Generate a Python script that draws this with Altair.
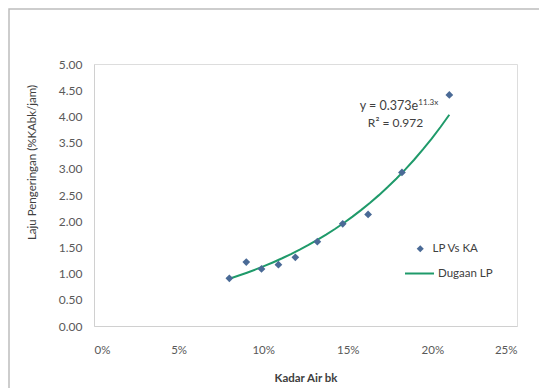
import altair as alt
import pandas as pd

# Observed data (Kadar Air bk as fraction, Laju Pengeringan)
kadar_air = [0.080, 0.090, 0.099, 0.109, 0.119, 0.132, 0.147, 0.162, 0.182, 0.210]
laju = [0.91, 1.22, 1.09, 1.17, 1.31, 1.61, 1.95, 2.13, 2.93, 4.41]

x_ticks = [0, 0.05, 0.10, 0.15, 0.20, 0.25]
y_ticks = [0, 0.5, 1.0, 1.5, 2.0, 2.5, 3.0, 3.5, 4.0, 4.5, 5.0]

eq_main = "y = 0.373e"
eq_sup = "11.3x"
eq_r2 = "R² = 0.972"

df = pd.DataFrame({"x": kadar_air, "y": laju, "s1": "LP Vs KA"})

FONT = "Lato"
PT_COLOR = "#4a6a96"
LN_COLOR = "#1f9a6a"
TXT = "#404040"

xscale = alt.Scale(domain=[0, 0.25], nice=False)
yscale = alt.Scale(domain=[0, 5], nice=False)

xax = alt.Axis(values=x_ticks, format=".0%", title="Kadar Air bk", grid=False, ticks=False,
               labelPadding=18, domainColor="#d0d0d0", labelColor="#595959", labelFontSize=11.5,
               labelOverlap=False,
               titleFontSize=11.5, titleFontWeight="bold", titleColor=TXT,
               titleY=52, titleBaseline="middle")
yax = alt.Axis(values=y_ticks, format=".2f", title="Laju Pengeringan (%KAbk/jam)", grid=False,
               ticks=False, labelPadding=12, domainColor="#d0d0d0", labelColor="#595959",
               labelFontSize=12, labelOverlap=False,
               titleFontSize=11.5, titleFontWeight="normal", titleColor=TXT,
               titleX=-62, titleY=98, titleBaseline="middle")


def X(field):
    return alt.X(field, type="quantitative", scale=xscale, axis=xax)


def Y(field):
    return alt.Y(field, type="quantitative", scale=yscale, axis=yax)


base = alt.Chart(df)

points = base.mark_point(filled=True, opacity=1, color=PT_COLOR, size=60).encode(
    x=X("x"),
    y=Y("y"),
    shape=alt.Shape("s1:N", scale=alt.Scale(range=["diamond"]),
                    legend=alt.Legend(orient="none", legendX=320.5, legendY=179, title=None,
                                      padding=0, labelOffset=6.5, symbolSize=50,
                                      labelFont=FONT, labelFontSize=11.5, labelColor=TXT,
                                      symbolFillColor=PT_COLOR, symbolStrokeWidth=0)),
)

# exponential trend: least squares in log space (as a spreadsheet trendline does)
trend = base.transform_calculate(ly="log(datum.y)").transform_regression(
    "x", "ly", method="poly", order=1, extent=[0.08, 0.21]
).transform_calculate(
    y="exp(datum.ly)", s2='"Dugaan LP"'
).mark_line(strokeWidth=2).encode(
    x=X("x"),
    y=Y("y"),
    color=alt.Color("s2:N", scale=alt.Scale(range=[LN_COLOR]),
                    legend=alt.Legend(orient="none", legendX=310, legendY=194, title=None,
                                      padding=0, labelOffset=3, symbolType="stroke",
                                      symbolSize=841, symbolStrokeWidth=2,
                                      labelFont=FONT, labelFontSize=11.5, labelColor=TXT)),
)

ann = pd.DataFrame({
    "x": [0.1915, 0.1917, 0.1782],
    "y": [4.20, 4.26, 3.87],
    "t": [eq_main, eq_sup, eq_r2],
})
ann1 = alt.Chart(ann.iloc[[0]]).mark_text(align="right", baseline="middle", font=FONT,
                                             fontSize=12.5, color=TXT).encode(
    x=X("x"), y=Y("y"), text="t:N")
ann2 = alt.Chart(ann.iloc[[1]]).mark_text(align="left", baseline="middle", font=FONT,
                                             fontSize=8, color=TXT).encode(
    x=X("x"), y=Y("y"), text="t:N")
ann3 = alt.Chart(ann.iloc[[2]]).mark_text(align="center", baseline="middle", font=FONT,
                                             fontSize=12, color=TXT).encode(
    x=X("x"), y=Y("y"), text="t:N")

frame = alt.Chart(pd.DataFrame({"a": [0]})).mark_rect(fill=None, stroke="#bdbdbd", strokeWidth=1.5).encode(
    x=alt.value(-85), x2=alt.value(447), y=alt.value(-55), y2=alt.value(360))

chart = alt.layer(frame, trend, points, ann1, ann2, ann3).resolve_legend(
    shape="independent", color="independent"
).properties(
    width=423, height=262,
    autosize=alt.AutoSizeParams(type="none"),
    padding={"left": 86, "top": 56, "right": 22, "bottom": 90},
).configure_view(stroke=None).configure(font=FONT).configure_axis(labelFont=FONT, titleFont=FONT)

chart.save("out.html", embed_options={"renderer": "svg", "actions": False})
